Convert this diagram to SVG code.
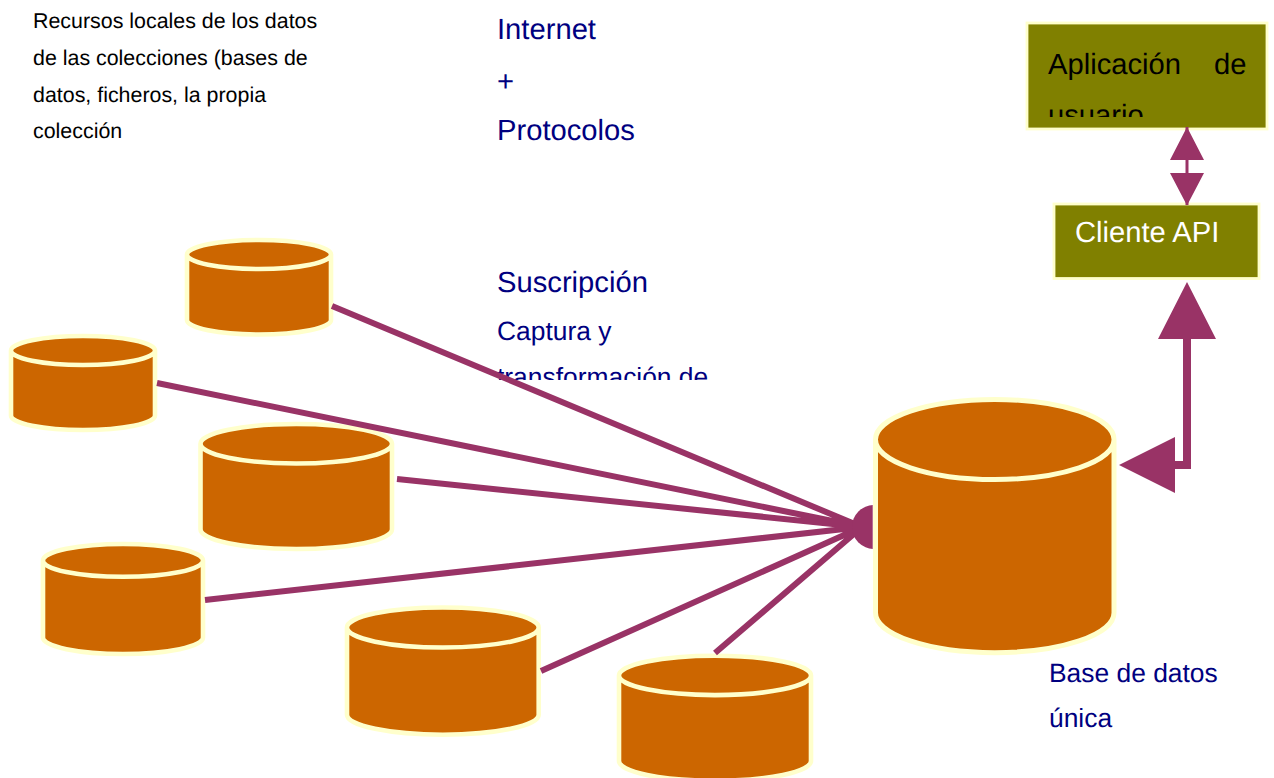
<svg xmlns="http://www.w3.org/2000/svg" width="1274" height="778" viewBox="0 0 1274 778">
<style>
text{font-family:"Liberation Sans",Arial,sans-serif;text-rendering:geometricPrecision}
.c{fill:#cc6600;stroke:#ffffcc;stroke-width:4.600}
.b{fill:#808000;stroke:#ffffcc;stroke-width:2.800}
.n{fill:#000080}
.s{font-size:21.4px;fill:#000}
.l{font-size:29.2px}
.m{font-size:26.4px}
.w{stroke:#993366;stroke-width:6;fill:none}
.h{fill:#993366}
</style>
<defs>
<clipPath id="c1"><rect x="1028" y="24" width="238" height="93"/></clipPath>
<clipPath id="c2"><rect x="480" y="260" width="260" height="120"/></clipPath>
<clipPath id="c3"><rect x="840" y="490" width="32.700" height="70"/></clipPath>
</defs>
<rect width="1274" height="778" fill="#fff"/>
<g id="texto-recursos" class="s">
<text x="33" y="28">Recursos locales de los datos</text>
<text x="33" y="65">de las colecciones (bases de</text>
<text x="33" y="102">datos, ficheros, la propia</text>
<text x="33" y="138">colección</text>
</g>
<g id="texto-internet" class="n l">
<text x="497" y="39">Internet</text>
<text x="497" y="91">+</text>
<text x="497" y="140">Protocolos</text>
</g>
<g id="texto-suscripcion" class="n" clip-path="url(#c2)">
<text class="l" x="497" y="292">Suscripción</text>
<text class="m" x="497" y="340">Captura y</text>
<text class="m" x="497" y="386">transformación de</text>
</g>
<g id="texto-base" class="n m">
<text x="1049" y="682">Base de datos</text>
<text x="1049" y="727">única</text>
</g>
<g id="db-1"><path class="c" d="M187 254.500V320A72 14.500 0 0 0 331 320V254.500A72 14.500 0 0 0 187 254.500ZM187 254.500A72 14.500 0 0 0 331 254.500"/></g>
<g id="db-2"><path class="c" d="M11 350.500V415.500A72 14.500 0 0 0 155 415.500V350.500A72 14.500 0 0 0 11 350.500ZM11 350.500A72 14.500 0 0 0 155 350.500"/></g>
<g id="db-3"><path class="c" d="M200.500 443.750V529.250A95.750 19.750 0 0 0 392 529.250V443.750A95.750 19.750 0 0 0 200.500 443.750ZM200.500 443.750A95.750 19.750 0 0 0 392 443.750"/></g>
<g id="db-4"><path class="c" d="M43 560.400V637.600A80 16.400 0 0 0 203 637.600V560.400A80 16.400 0 0 0 43 560.400ZM43 560.400A80 16.400 0 0 0 203 560.400"/></g>
<g id="db-5"><path class="c" d="M347 627.500V714.700A95.850 20 0 0 0 538.700 714.700V627.500A95.850 20 0 0 0 347 627.500ZM347 627.500A95.850 20 0 0 0 538.700 627.500"/></g>
<g id="db-6"><path class="c" d="M619 675.400V761A96 19.700 0 0 0 811 761V675.400A96 19.700 0 0 0 619 675.400ZM619 675.400A96 19.700 0 0 0 811 675.400"/></g>
<g id="db-unica"><path class="c" style="stroke-width:5" d="M875.500 439.500V612.700A119.250 40 0 0 0 1114 612.700V439.500A119.250 40 0 0 0 875.500 439.500ZM875.500 439.500A119.250 40 0 0 0 1114 439.500"/></g>
<g id="app">
<rect class="b" x="1027" y="23" width="240" height="106"/>
<g clip-path="url(#c1)" class="l">
<text x="1048" y="74">Aplicación</text>
<text x="1214" y="74">de</text>
<text x="1048" y="125">usuario</text>
</g>
</g>
<g id="cliente">
<rect class="b" x="1054" y="204" width="205" height="74.500"/>
<text class="l" x="1075" y="242" fill="#fff">Cliente API</text>
</g>
<g id="conectores">
<path class="w" d="M332 306L862 527M157 383L862 527M397 479L862 527M205 600L862 527M541 671L862 527M715 653L862 527"/>
<circle class="h" cx="874" cy="527" r="22" clip-path="url(#c3)"/>
<path d="M1187 127V205" stroke="#993366" stroke-width="3" fill="none"/>
<path class="h" d="M1187 127L1204 160H1170ZM1187 205.500L1204 173H1170Z"/>
<path d="M1187 335V465H1172" stroke="#993366" stroke-width="8" fill="none"/>
<path class="h" d="M1187 282L1216 339H1158ZM1119 465L1175 437V493Z"/>
</g>
</svg>
